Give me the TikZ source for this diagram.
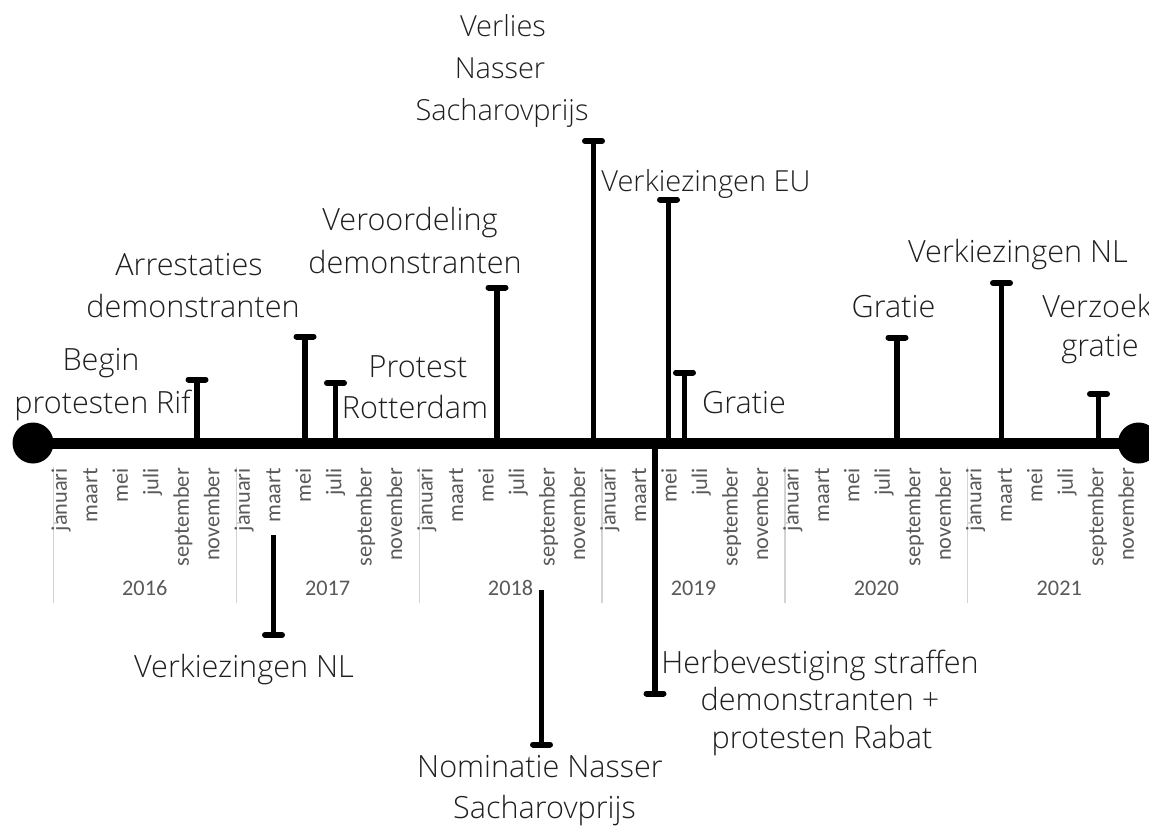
\documentclass[tikz,border=0pt]{standalone}
\usepackage{fontspec}
\IfFontExistsTF{Open Sans Light}{\newfontfamily\evfont{Open Sans Light}}{\newfontfamily\evfont{Open Sans}}
\newfontfamily\axfont{Carlito}
\definecolor{axgrey}{HTML}{595959}
\definecolor{sepgrey}{HTML}{D3D3D3}
\begin{document}
\begin{tikzpicture}[x=1pt,y=-1pt,
  ev/.style={font=\evfont\fontsize{30.6}{42}\selectfont, inner sep=0pt, anchor=base, text=black!88},
  evs/.style={ev, font=\evfont\fontsize{29}{42}\selectfont},
  mon/.style={font=\axfont\fontsize{22.3}{26}\selectfont, text=axgrey, rotate=90, anchor=base east, inner sep=0pt},
  yr/.style={font=\axfont\fontsize{22.3}{26}\selectfont, text=axgrey, anchor=base, inner sep=0pt},
  sepline/.style={draw=sepgrey, line width=1.2pt},
  stemline/.style={line width=5.5pt},
  capline/.style={line width=6pt, line cap=round},
  axisline/.style={line width=11pt},
  dot/.style={circle, fill=black, minimum size=41pt, inner sep=0pt},
]
\useasboundingbox (0,0) rectangle (1149,825);

% axis categories
\foreach \k in {0,...,6}{
  \pgfmathsetmacro\xs{53.3+182.9*\k}
  \draw[sepline] (\xs,467) -- (\xs,603);
  \draw[sepline] (\xs,523) -- (\xs+3.5,523);
}
\foreach \k/\yy in {0/2016,1/2017,2/2018,3/2019,4/2020,5/2021}{
  \pgfmathsetmacro\xc{53.3+182.9*(\k+0.5)}
  \node[yr] (y\yy) at (\xc,595) {\yy};
  \foreach \m [count=\j from 0] in {januari,maart,mei,juli,september,november}{
    \pgfmathsetmacro\xm{53.3+182.9*\k+15.24*(2*\j+0.5)+6}
    \node[mon] (m\yy\j) at (\xm,468) {\m};
  }
}

% main axis
\node[dot] (L) at (33,443) {};
\node[dot] (R) at (1138.5,443) {};
\draw[axisline] (L.center) -- (R.center);

% stems upward
\foreach \n/\x/\y in {A/197/379.5, B/305/336.5, C/335.5/383, D/497/287.5, E/593.5/141, F/668.5/199.5, G/684.5/372.5, H/897/337.5, I/1001.5/283, J/1098.5/394}{
  \coordinate (\n0) at (\x,443);
  \coordinate (\n1) at (\x,\y);
  \draw[stemline] (\n0) -- (\n1);
  \draw[capline] ([xshift=-8.5pt]\n1) -- ([xshift=8.5pt]\n1);
}
% stems downward
\foreach \n/\x/\ya/\yb in {K/273.5/535/635, P/541.5/590/744.5, M/655/443/693.5}{
  \coordinate (\n0) at (\x,\ya);
  \coordinate (\n1) at (\x,\yb);
  \draw[stemline] (\n0) -- (\n1);
  \draw[capline] ([xshift=-8.5pt]\n1) -- ([xshift=8.5pt]\n1);
}

% event labels
\node[evs] (t1a) at (503,36) {Verlies};
\node[evs] (t1b) at (500,78) {Nasser};
\node[evs] (t1c) at (502,120) {Sacharovprijs};
\node[evs] (t2) at (706,191) {Verkiezingen EU};
\node[ev] (t3a) at (410,230) {Veroordeling};
\node[ev] (t3b) at (415,273) {demonstranten};
\node[ev] (t4a) at (189,275) {Arrestaties};
\node[ev] (t4b) at (193,317) {demonstranten};
\node[ev] (t5a) at (101,370) {Begin};
\node[ev] (t5b) at (102.5,413) {protesten Rif};
\node[ev] (t6a) at (418,377) {Protest};
\node[ev] (t6b) at (415,418) {Rotterdam};
\node[ev] (t7) at (744,413) {Gratie};
\node[ev] (t8) at (893.5,317) {Gratie};
\node[ev] (t9) at (1018,262) {Verkiezingen NL};
\node[ev] (t10a) at (1097,317) {Verzoek};
\node[ev] (t10b) at (1100,356) {gratie};
\node[ev] (t11) at (244,677) {Verkiezingen NL};
\node[ev] (t12a) at (540,777) {Nominatie Nasser};
\node[ev] (t12b) at (544.5,818) {Sacharovprijs};
\node[ev] (t13a) at (820,673) {Herbevestiging straffen};
\node[ev] (t13b) at (820,710) {demonstranten +};
\node[ev] (t13c) at (822,748) {protesten Rabat};
\end{tikzpicture}
\end{document}
